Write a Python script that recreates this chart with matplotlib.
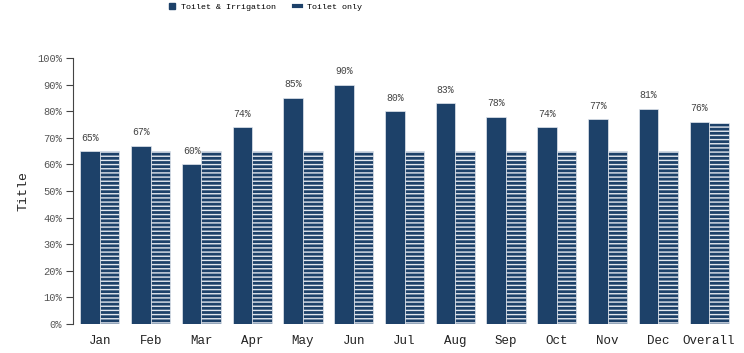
import matplotlib.pyplot as plt
from matplotlib.lines import Line2D
import numpy as np

months = ['Jan', 'Feb', 'Mar', 'Apr', 'May', 'Jun', 'Jul', 'Aug', 'Sep', 'Oct', 'Nov', 'Dec', 'Overall']
toilet_irrigation = [65, 67, 60, 74, 85, 90, 80, 83, 78, 74, 77, 81, 76]
toilet_only = [65, 65, 65, 65, 65, 65, 65, 65, 65, 65, 65, 65, 75.7]

azul = '#1d4169'
plt.rcParams['font.family'] = ['Liberation Mono', 'DejaVu Sans Mono']
plt.rcParams['hatch.color'] = 'white'
plt.rcParams['hatch.linewidth'] = 1.0

fig = plt.figure(figsize=(7.44, 3.53), dpi=100)
ax = fig.add_axes([73/744, 29/353, 663/744, 266/353])

x = np.arange(len(months))
w = 0.385
ax.bar(x - w/2, toilet_irrigation, w, color=azul, edgecolor='#e3e8ef', linewidth=0.5)
ax.bar(x + w/2, toilet_only, w, color=azul, edgecolor='#e3e8ef', linewidth=0.5, hatch='----')

# etiquetas de porcentaje sobre las barras oscuras
for xi, v in zip(x, toilet_irrigation):
    ax.text(xi - w/2, v + 3.2, f'{v:.0f}%', ha='center', va='bottom', fontsize=7, color='#444444')

ax.set_xlim(-0.53, 12.53)
ax.set_ylim(0, 100)
ax.set_yticks(range(0, 101, 10))
ax.set_yticklabels([f'{t}%' for t in range(0, 101, 10)], fontsize=7.5, color='#555555')
ax.set_xticks(x)
ax.set_xticklabels(months, fontsize=9, color='#222222')
ax.tick_params(axis='x', length=0, pad=8)
ax.tick_params(axis='y', length=5, color='#444444', width=0.8, pad=3)
ax.set_ylabel('Title', fontsize=9.5, color='#222222', labelpad=5)

for s in ['top', 'right', 'bottom']:
    ax.spines[s].set_visible(False)
ax.spines['left'].set_color('#444444')
ax.spines['left'].set_linewidth(0.8)

h1 = Line2D([], [], marker='s', linestyle='none', markersize=5, color=azul, label='Toilet & Irrigation')
h2 = Line2D([0], [0], color=azul, lw=3, label='Toilet only')
fig.legend(handles=[h1, h2], loc='upper center', bbox_to_anchor=(0.356, 1.012), ncol=2,
           frameon=False, fontsize=6, handlelength=0.8, handletextpad=0.7,
           columnspacing=2.2)

plt.savefig('out.png', dpi=100)
